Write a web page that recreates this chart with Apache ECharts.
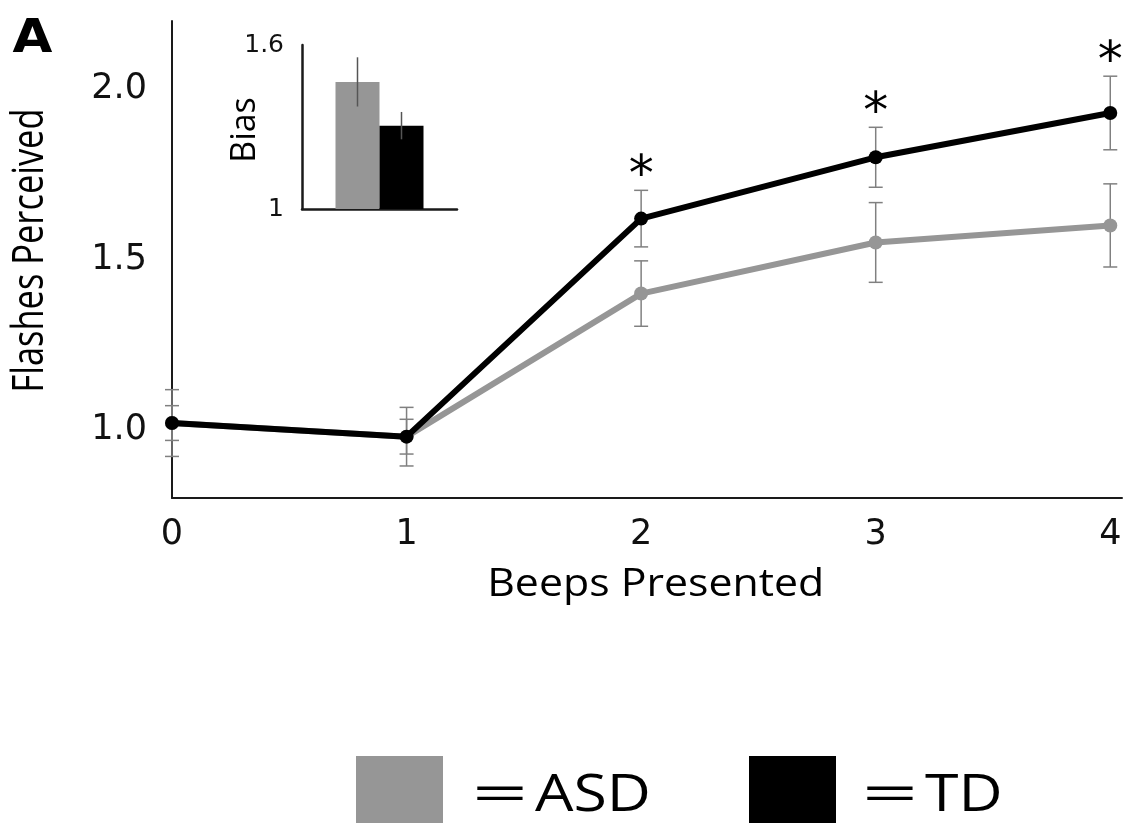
<!DOCTYPE html>
<html>
<head>
<meta charset="utf-8">
<title>Flashes Perceived vs Beeps Presented</title>
<script src="https://cdn.jsdelivr.net/npm/echarts@6/dist/echarts.min.js"></script>
<style>
  html, body { margin: 0; padding: 0; background: #fff; }
  #chart { width: 1142px; height: 823px; }
</style>
</head>
<body>
<div id="chart"></div>
<script>
// Mean flashes perceived per number of beeps, with standard errors
const beeps = [0, 1, 2, 3, 4];
const asdMean = [1.02, 0.98, 1.40, 1.55, 1.60];
const asdErr  = [0.098, 0.086, 0.096, 0.117, 0.122];
const tdMean  = [1.02, 0.98, 1.62, 1.80, 1.93];
const tdErr   = [0.051, 0.051, 0.083, 0.088, 0.108];
// Beep counts where the groups differ significantly
const sigBeeps = [2, 3, 4];
const yTickLabels = ['1.0', '1.5', '2.0'];

// Inset: overall bias per group
const biasGroups = ['ASD', 'TD'];
const biasMean = [1.465, 1.305];
const biasErr  = [0.09, 0.05];

const GRAY = '#969696';
const ERR_GRAY = '#808080';
const AXIS = '#1a1a1a';

function errorBars(params, api) {
  const x = api.value(0);
  const top = api.coord([x, api.value(2)]);
  const bot = api.coord([x, api.value(1)]);
  const cap = 7;
  const st = { stroke: ERR_GRAY, lineWidth: 1.5 };
  return {
    type: 'group',
    children: [
      { type: 'line', shape: { x1: top[0], y1: top[1], x2: bot[0], y2: bot[1] }, style: st },
      { type: 'line', shape: { x1: top[0] - cap, y1: top[1], x2: top[0] + cap, y2: top[1] }, style: st },
      { type: 'line', shape: { x1: bot[0] - cap, y1: bot[1], x2: bot[0] + cap, y2: bot[1] }, style: st }
    ]
  };
}

function asterisk(params, api) {
  const p = api.coord([api.value(0), api.value(1)]);
  return {
    type: 'text',
    x: p[0],
    y: p[1] - 13,
    style: {
      text: '*', fill: '#000', fontFamily: 'DejaVu Sans', fontSize: 50,
      align: 'center', verticalAlign: 'middle', textAlign: 'center', textVerticalAlign: 'middle'
    }
  };
}

const BAR_W = 44;
function insetErrorBars(params, api) {
  const c0 = api.coord([api.value(0), api.value(2)]);
  const c1 = api.coord([api.value(0), api.value(1)]);
  const dx = api.value(3) * BAR_W / 2;
  return {
    type: 'line',
    shape: { x1: c0[0] + dx, y1: c0[1], x2: c1[0] + dx, y2: c1[1] },
    style: { stroke: '#555', lineWidth: 1.5 }
  };
}

const chart = echarts.init(document.getElementById('chart'), null, { renderer: 'canvas' });

const option = {
  animation: false,
  backgroundColor: '#fff',
  grid: [
    { left: 172, top: 21, width: 950, height: 477, outerBoundsMode: 'none' },
    { left: 302, top: 45, width: 155, height: 164, outerBoundsMode: 'none' }
  ],
  xAxis: [
    {
      gridIndex: 0, type: 'value', min: 0, max: 4.05, interval: 1,
      axisLine: { show: true, onZero: false, lineStyle: { color: AXIS, width: 2 } },
      axisTick: { show: false }, splitLine: { show: false },
      axisLabel: {
        margin: 19, fontFamily: 'DejaVu Sans', fontSize: 35, color: '#111',
        formatter: v => (v <= 4.001 ? String(Math.round(v)) : '')
      }
    },
    {
      gridIndex: 1, type: 'category', data: [''],
      axisLine: { show: true, onZero: false, lineStyle: { color: AXIS, width: 2.5 } },
      axisTick: { show: false }, axisLabel: { show: false }, splitLine: { show: false }
    }
  ],
  yAxis: [
    {
      gridIndex: 0, type: 'value', min: 0.8, max: 2.2, interval: 0.1,
      axisLine: { show: true, onZero: false, lineStyle: { color: AXIS, width: 2 } },
      axisTick: { show: false }, splitLine: { show: false },
      axisLabel: {
        margin: 25, fontFamily: 'DejaVu Sans', fontSize: 35, color: '#111',
        formatter: v => {
          const s = (Math.round(v * 10) / 10).toFixed(1);
          return yTickLabels.indexOf(s) >= 0 ? s : '';
        }
      }
    },
    {
      gridIndex: 1, type: 'value', min: 1, max: 1.6, interval: 0.6,
      axisLine: { show: true, onZero: false, lineStyle: { color: AXIS, width: 2.5 } },
      axisTick: { show: false }, splitLine: { show: false },
      axisLabel: {
        margin: 18, fontFamily: 'DejaVu Sans', fontSize: 25, color: '#111',
        formatter: v => (Math.abs(v - 1) < 1e-6 ? '1' : v.toFixed(1))
      }
    }
  ],
  series: [
    {
      type: 'custom', name: 'ASD SE', xAxisIndex: 0, yAxisIndex: 0, z: 2, silent: true,
      renderItem: errorBars, encode: { x: 0, y: [1, 2] },
      data: beeps.map((b, i) => [b, asdMean[i] - asdErr[i], asdMean[i] + asdErr[i]])
    },
    {
      type: 'custom', name: 'TD SE', xAxisIndex: 0, yAxisIndex: 0, z: 2, silent: true,
      renderItem: errorBars, encode: { x: 0, y: [1, 2] },
      data: beeps.map((b, i) => [b, tdMean[i] - tdErr[i], tdMean[i] + tdErr[i]])
    },
    {
      type: 'line', name: 'ASD', xAxisIndex: 0, yAxisIndex: 0, z: 3,
      data: beeps.map((b, i) => [b, asdMean[i]]),
      symbol: 'circle', symbolSize: 14,
      lineStyle: { color: GRAY, width: 6 },
      itemStyle: { color: GRAY, borderWidth: 0 }
    },
    {
      type: 'line', name: 'TD', xAxisIndex: 0, yAxisIndex: 0, z: 4,
      data: beeps.map((b, i) => [b, tdMean[i]]),
      symbol: 'circle', symbolSize: 14,
      lineStyle: { color: '#000', width: 6 },
      itemStyle: { color: '#000', borderWidth: 0 }
    },
    {
      type: 'custom', name: 'significance', xAxisIndex: 0, yAxisIndex: 0, z: 5, silent: true,
      renderItem: asterisk, encode: { x: 0, y: 1 },
      data: sigBeeps.map(b => {
        const i = beeps.indexOf(b);
        return [b, tdMean[i] + tdErr[i]];
      })
    },
    {
      type: 'bar', name: biasGroups[0], xAxisIndex: 1, yAxisIndex: 1,
      data: [biasMean[0]], barWidth: BAR_W, barGap: '0%',
      itemStyle: { color: GRAY }
    },
    {
      type: 'bar', name: biasGroups[1], xAxisIndex: 1, yAxisIndex: 1,
      data: [biasMean[1]], barWidth: BAR_W, barGap: '0%',
      itemStyle: { color: '#000' }
    },
    {
      type: 'custom', name: 'bias SE', xAxisIndex: 1, yAxisIndex: 1, z: 6, silent: true,
      renderItem: insetErrorBars, encode: { y: [1, 2] },
      data: biasMean.map((m, i) => [0, m - biasErr[i], m + biasErr[i], i === 0 ? -1 : 1])
    }
  ],
  graphic: [
    // panel letter
    {
      type: 'text', x: 32.5, y: 40.5, scaleX: 1.12,
      style: { text: 'A', fill: '#000', fontFamily: 'DejaVu Sans', fontWeight: 'bold', fontSize: 46,
               align: 'center', verticalAlign: 'middle', textAlign: 'center', textVerticalAlign: 'middle' }
    },
    // y-axis title
    {
      type: 'text', x: 30.5, y: 250.5, rotation: Math.PI / 2, scaleX: 0.906, scaleY: 1.14,
      style: { text: 'Flashes Perceived', fill: '#000', fontFamily: 'Open Sans', fontSize: 38,
               align: 'center', verticalAlign: 'middle', textAlign: 'center', textVerticalAlign: 'middle' }
    },
    // x-axis title
    {
      type: 'text', x: 655.7, y: 585.3, scaleX: 1.127,
      style: { text: 'Beeps Presented', fill: '#000', fontFamily: 'Open Sans', fontSize: 38,
               align: 'center', verticalAlign: 'middle', textAlign: 'center', textVerticalAlign: 'middle' }
    },
    // inset y-axis title
    {
      type: 'text', x: 245, y: 130, rotation: Math.PI / 2,
      style: { text: 'Bias', fill: '#000', fontFamily: 'Open Sans', fontSize: 34,
               align: 'center', verticalAlign: 'middle', textAlign: 'center', textVerticalAlign: 'middle' }
    },
    // key
    { type: 'rect', shape: { x: 356, y: 756, width: 87, height: 80 }, style: { fill: GRAY } },
    {
      type: 'text', x: 500, y: 796, scaleX: 1.9,
      style: { text: '=', fill: '#000', fontFamily: 'Open Sans', fontSize: 52,
               align: 'center', verticalAlign: 'middle', textAlign: 'center', textVerticalAlign: 'middle' }
    },
    {
      type: 'text', x: 535, y: 796, scaleX: 1.17,
      style: { text: 'ASD', fill: '#000', fontFamily: 'Open Sans', fontSize: 52,
               align: 'left', verticalAlign: 'middle', textAlign: 'left', textVerticalAlign: 'middle' }
    },
    { type: 'rect', shape: { x: 749, y: 756, width: 87, height: 80 }, style: { fill: '#000' } },
    {
      type: 'text', x: 890, y: 796, scaleX: 1.9,
      style: { text: '=', fill: '#000', fontFamily: 'Open Sans', fontSize: 52,
               align: 'center', verticalAlign: 'middle', textAlign: 'center', textVerticalAlign: 'middle' }
    },
    {
      type: 'text', x: 925, y: 796, scaleX: 1.17,
      style: { text: 'TD', fill: '#000', fontFamily: 'Open Sans', fontSize: 52,
               align: 'left', verticalAlign: 'middle', textAlign: 'left', textVerticalAlign: 'middle' }
    }
  ]
};

chart.setOption(option);
</script>
</body>
</html>
